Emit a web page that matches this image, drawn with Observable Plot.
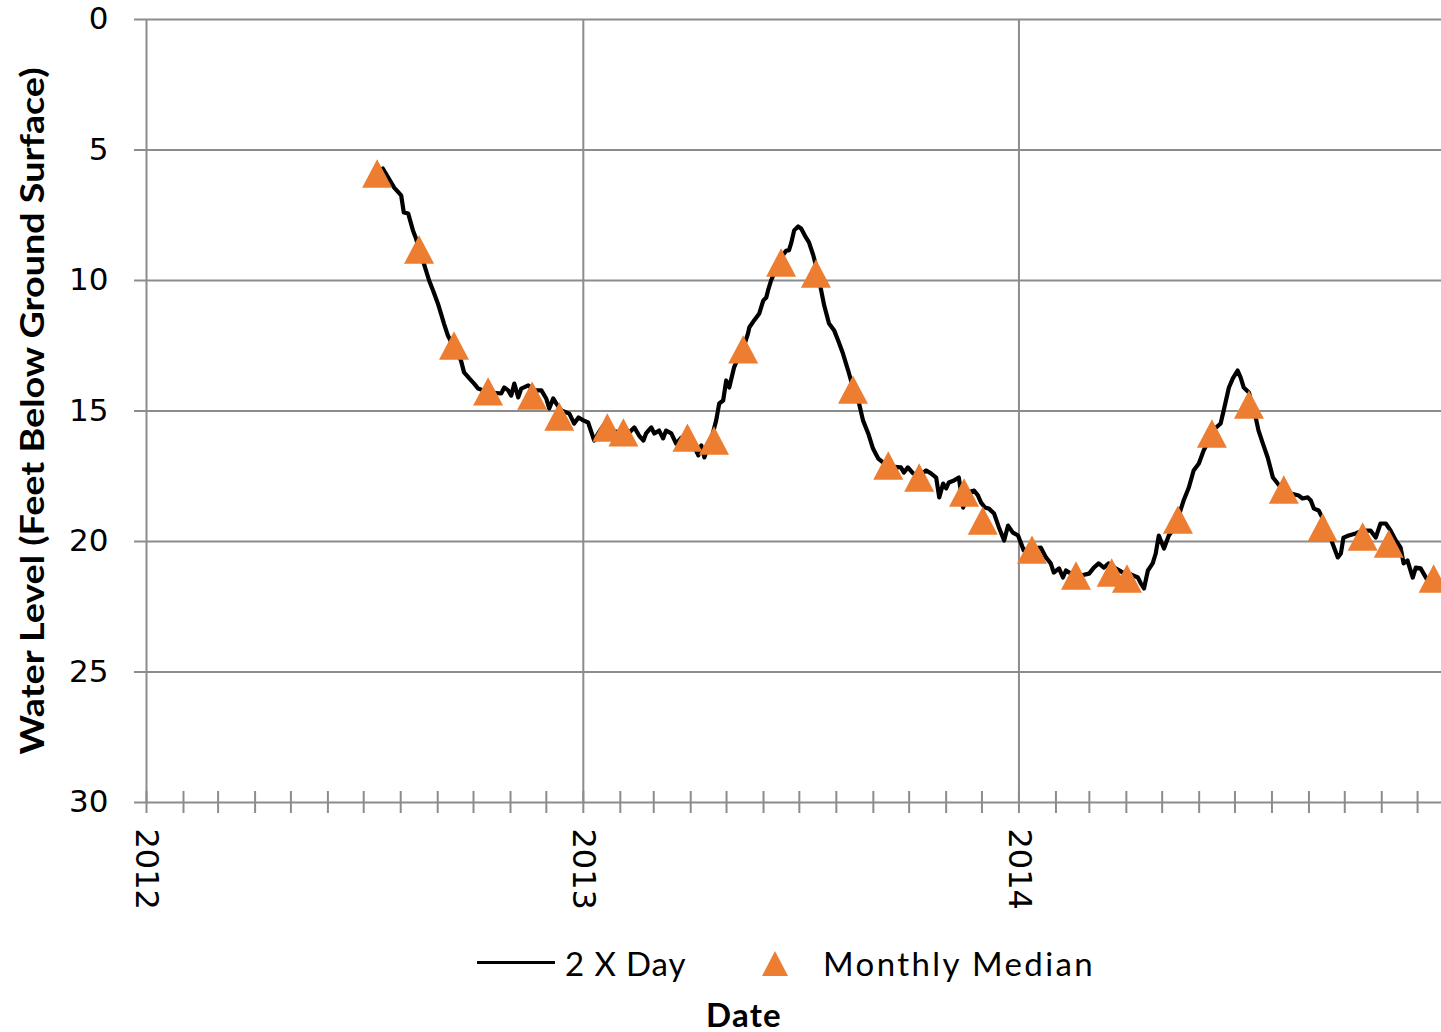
<!DOCTYPE html>
<html><head><meta charset="utf-8">
<script src="https://cdn.jsdelivr.net/npm/d3@7"></script>
<script src="https://cdn.jsdelivr.net/npm/@observablehq/plot@0.6"></script>
<style>
html,body{margin:0;padding:0;background:#fff}
body{width:1441px;height:1032px;position:relative;overflow:hidden;font-family:Lato,sans-serif;color:#000}
#chart{position:absolute;left:0;top:0}
.lg{position:absolute;font-size:33px;line-height:40px;white-space:nowrap}
#xlabel{position:absolute;left:744px;top:999px;transform:translateX(-50%);font-weight:bold;font-size:33px;line-height:30px;letter-spacing:1.2px}
</style></head><body>
<div id="chart"></div>
<div id="legend"></div>
<div id="xlabel"></div>
<script>
// ---- data (decimal year, feet below ground surface) ----
const twiceDaily = [
[2012.541,5.71],[2012.567,6.44],[2012.583,6.74],[2012.589,7.39],[2012.599,7.43],[2012.610,8.08],
[2012.617,8.39],[2012.624,8.81],[2012.635,9.35],[2012.647,10.0],[2012.656,10.38],[2012.667,10.88],
[2012.674,11.26],[2012.681,11.65],[2012.690,12.11],[2012.704,12.57],[2012.720,13.07],[2012.727,13.52],
[2012.739,13.75],[2012.750,13.95],[2012.759,14.14],[2012.771,14.21],[2012.789,14.29],[2012.812,14.33],
[2012.819,14.10],[2012.828,14.21],[2012.835,14.41],[2012.842,13.95],[2012.851,14.48],[2012.858,14.14],
[2012.874,14.02],[2012.890,14.21],[2012.904,14.21],[2012.915,14.52],[2012.922,14.90],[2012.931,14.52],
[2012.938,14.71],[2012.950,14.98],[2012.968,15.10],[2012.979,15.48],[2012.989,15.25],[2013.000,15.36],
[2013.011,15.44],[2013.025,16.13],[2013.034,15.86],[2013.046,15.56],[2013.064,15.75],[2013.083,15.82],
[2013.099,15.94],[2013.110,15.75],[2013.117,15.63],[2013.128,15.94],[2013.138,16.13],[2013.144,15.86],
[2013.156,15.63],[2013.163,15.86],[2013.174,15.75],[2013.183,16.05],[2013.190,15.75],[2013.202,15.86],
[2013.213,16.25],[2013.225,16.02],[2013.248,16.13],[2013.264,16.70],[2013.271,16.32],[2013.278,16.78],
[2013.287,16.32],[2013.296,15.94],[2013.305,15.36],[2013.312,14.71],[2013.321,14.60],[2013.328,13.83],
[2013.335,14.10],[2013.346,13.33],[2013.358,12.87],[2013.369,12.49],[2013.378,12.03],[2013.381,11.80],
[2013.392,11.53],[2013.404,11.26],[2013.413,10.77],[2013.420,10.65],[2013.424,10.38],[2013.431,10.0],
[2013.438,9.73],[2013.447,9.43],[2013.456,9.08],[2013.466,8.85],[2013.472,8.85],[2013.477,8.58],
[2013.484,8.08],[2013.493,7.93],[2013.500,8.01],[2013.511,8.35],[2013.518,8.54],[2013.528,9.04],
[2013.537,9.62],[2013.546,10.38],[2013.553,10.96],[2013.564,11.65],[2013.576,11.92],[2013.585,12.30],
[2013.596,12.80],[2013.608,13.45],[2013.619,14.10],[2013.633,14.71],[2013.642,15.36],[2013.654,15.86],
[2013.665,16.44],[2013.677,16.82],[2013.688,16.97],[2013.706,17.13],[2013.729,17.16],[2013.736,17.36],
[2013.745,17.16],[2013.757,17.39],[2013.771,17.47],[2013.787,17.28],[2013.798,17.39],[2013.810,17.55],
[2013.817,18.31],[2013.826,17.78],[2013.833,17.97],[2013.839,17.74],[2013.851,17.66],[2013.862,17.55],
[2013.872,18.70],[2013.881,18.12],[2013.897,18.05],[2013.906,18.24],[2013.913,18.51],[2013.922,18.70],
[2013.931,18.74],[2013.943,18.93],[2013.954,19.46],[2013.966,19.96],[2013.975,19.39],[2013.986,19.66],
[2013.998,19.77],[2014.005,20.08],[2014.011,20.34],[2014.028,20.27],[2014.050,20.23],[2014.062,20.61],
[2014.073,20.84],[2014.080,21.19],[2014.092,21.03],[2014.101,21.38],[2014.108,21.11],[2014.119,21.23],
[2014.142,21.30],[2014.161,21.23],[2014.172,21.00],[2014.183,20.84],[2014.195,21.00],[2014.206,20.84],
[2014.222,21.03],[2014.239,21.19],[2014.257,21.26],[2014.273,21.38],[2014.280,21.61],[2014.287,21.80],
[2014.296,21.11],[2014.307,20.84],[2014.314,20.46],[2014.321,19.77],[2014.333,20.27],[2014.344,19.77],
[2014.356,19.50],[2014.367,19.00],[2014.378,18.43],[2014.390,17.93],[2014.401,17.28],[2014.413,17.01],
[2014.424,16.51],[2014.436,16.13],[2014.450,15.67],[2014.463,15.48],[2014.470,14.98],[2014.482,14.10],
[2014.491,13.75],[2014.502,13.45],[2014.509,13.72],[2014.516,14.10],[2014.528,14.29],[2014.537,14.90],
[2014.544,15.29],[2014.550,15.75],[2014.560,16.25],[2014.571,16.78],[2014.583,17.55],[2014.594,17.78],
[2014.608,18.05],[2014.624,18.16],[2014.642,18.24],[2014.651,18.35],[2014.663,18.31],[2014.670,18.43],
[2014.677,18.74],[2014.688,18.81],[2014.700,19.20],[2014.711,19.66],[2014.720,20.08],[2014.732,20.61],
[2014.739,20.46],[2014.745,19.85],[2014.757,19.77],[2014.773,19.69],[2014.789,19.58],[2014.807,19.58],
[2014.819,19.85],[2014.830,19.31],[2014.842,19.31],[2014.853,19.58],[2014.865,19.96],[2014.876,20.23],
[2014.883,20.84],[2014.892,20.73],[2014.904,21.38],[2014.911,21.00],[2014.922,21.03],[2014.929,21.23],
[2014.938,21.49],[2014.950,21.49],[2014.961,21.61],[2014.970,21.69]
];
const medianYears = [2012.528,2012.624,2012.704,2012.782,2012.883,2012.945,2013.055,2013.092,2013.239,2013.300,
  2013.367,2013.454,2013.534,2013.619,2013.700,2013.771,2013.874,2013.917,2014.030,2014.131,
  2014.213,2014.248,2014.365,2014.443,2014.528,2014.608,2014.697,2014.789,2014.849,2014.952];
const medianLevels = [5.90,8.81,12.49,14.25,14.41,15.21,15.63,15.82,16.02,16.13,
  12.64,9.31,9.73,14.18,17.09,17.55,18.12,19.20,20.31,21.30,
  21.19,21.42,19.16,15.86,14.75,18.01,19.46,19.81,20.08,21.42];
const yTicks = [0,5,10,15,20,25,30];
const yearLabels = ["2012","2013","2014"];
const axisEnd = 2014.970;
const seriesNames = ["2 X Day","Monthly Median"];
const yTitle = "Water Level (Feet Below Ground Surface)";
const xTitle = "Date";

// ---- helpers ----
function toDate(v){const y=Math.floor(v);const s=Date.UTC(y,0,1),e=Date.UTC(y+1,0,1);return new Date(s+(v-y)*(e-s));}
const lineData = twiceDaily.map(([t,v])=>({date:toDate(t),level:v}));
const medData = medianYears.map((t,i)=>({date:toDate(t),level:medianLevels[i]}));
const years = yearLabels.map(y=>new Date(Date.UTC(+y,0,1)));
const x0 = years[0], x1 = toDate(axisEnd);
const months = d3.utcMonth.range(x0, x1);
const triangle = {draw(ctx){ctx.moveTo(0,-14.2);ctx.lineTo(15,14.2);ctx.lineTo(-15,14.2);ctx.closePath();}};
const GRID = "#8c8c8c", ORANGE = "#ED7D31";

const chart = Plot.plot({
  width: 1441, height: 930,
  marginLeft: 146, marginRight: 0, marginTop: 19, marginBottom: 128,
  x: {type: "utc", domain: [x0, x1]},
  y: {domain: [0, 30], reverse: true},
  style: {background: "#fff"},
  marks: [
    Plot.gridY(yTicks, {stroke: GRID, strokeOpacity: 1, strokeWidth: 2}),
    Plot.gridX(years, {stroke: GRID, strokeOpacity: 1, strokeWidth: 2}),
    Plot.axisY({ticks: yTicks, tickSize: 12, tickPadding: 26, stroke: GRID, strokeWidth: 2, fill: "#000",
      fontSize: 31, fontFamily: "DejaVu Sans", label: null}),
    Plot.axisX(months, {tickSize: 22, dy: -11, tickFormat: () => "", stroke: GRID, strokeWidth: 2, label: null}),
    Plot.axisX(years, {tickSize: 0, tickPadding: 26, tickRotate: 90, tickFormat: "%Y", fill: "#000",
      fontSize: 32, fontFamily: "DejaVu Sans", label: null}),
    Plot.text([yTitle], {frameAnchor: "left", rotate: -90, dx: -113, textAnchor: "middle", fontSize: 33,
      fontWeight: "bold", fontFamily: "Lato", fill: "#000"}),
    Plot.line(lineData, {x: "date", y: "level", stroke: "#000", strokeWidth: 4.2, strokeLinejoin: "round"}),
    Plot.dot(medData, {x: "date", y: "level", symbol: triangle, fill: ORANGE, stroke: "none"})
  ]
});
document.getElementById("chart").append(chart);
// fit the y title to the reference's length
const titleNode = [...chart.querySelectorAll("text")].find(t => t.textContent === yTitle);
if (titleNode) { titleNode.setAttribute("textLength", 687); titleNode.setAttribute("lengthAdjust", "spacingAndGlyphs"); }

// ---- legend & x title below the svg ----
const lg = document.getElementById("legend");
lg.innerHTML =
  `<div style="position:absolute;left:477px;top:961px;width:78px;height:3px;background:#000"></div>
   <div class="lg" style="left:565px;top:943px;letter-spacing:0.9px">${seriesNames[0]}</div>
   <svg style="position:absolute;left:762px;top:951px" width="26" height="25"><path d="M13,0L26,25L0,25Z" fill="${ORANGE}"/></svg>
   <div class="lg" style="left:823px;top:943px;letter-spacing:2.4px">${seriesNames[1]}</div>`;
document.getElementById("xlabel").textContent = xTitle;
</script>
</body></html>
